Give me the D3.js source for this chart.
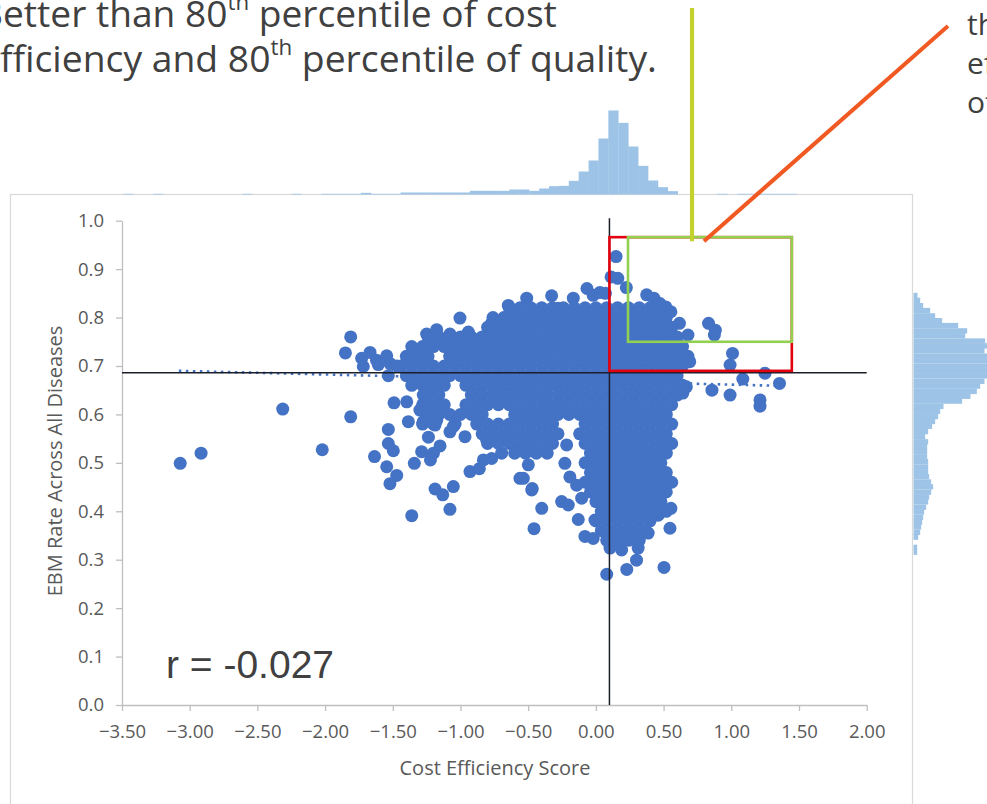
<!DOCTYPE html>
<html>
<head>
<meta charset="utf-8">
<script src="https://cdn.jsdelivr.net/npm/d3@7"></script>
<style>
  html, body { margin: 0; padding: 0; background: #fff; overflow: hidden; }
  svg { display: block; }
</style>
</head>
<body>
<div id="chart"></div>
<script>
/* EBM rate vs cost efficiency scatter, with the two marginal histograms */

const xTicks = [-3.5, -3, -2.5, -2, -1.5, -1, -0.5, 0, 0.5, 1, 1.5, 2];
const yTicks = [0, 0.1, 0.2, 0.3, 0.4, 0.5, 0.6, 0.7, 0.8, 0.9, 1.0];

// single dots: [cost efficiency, EBM rate]
const outliers = [
  [-3.07,0.499],[-2.916,0.520],[-2.313,0.611],[-2.021,0.527],[-1.811,0.760],[-1.850,0.727],[-1.811,0.595],
  [-1.730,0.716],[-1.718,0.699],[-1.668,0.728],[-1.620,0.712],[-1.607,0.703],[-1.545,0.721],[-1.520,0.705],[-1.471,0.700],[-1.533,0.680],
  [-1.373,0.712],[-1.299,0.733],[-1.250,0.766],[-1.176,0.775],[-1.078,0.766],[-1.004,0.799],[-0.942,0.770],[-0.831,0.757],
  [-0.773,0.787],[-0.647,0.825],[-0.511,0.840],[-0.450,0.812],[-0.327,0.845],[-0.278,0.819],[-0.167,0.840],[-0.066,0.860],
  [-0.020,0.846],[0.030,0.852],[0.070,0.850],
  [0.149,0.926],[0.112,0.884],[0.162,0.881],[0.225,0.862],[0.375,0.847],[0.428,0.840],[0.473,0.829],[0.516,0.822],
  [0.554,0.812],[0.617,0.788],[0.680,0.764],
  [0.832,0.788],[0.882,0.774],[0.875,0.764],[1.009,0.726],[0.991,0.702],[0.693,0.709],[1.249,0.685],[1.085,0.673],
  [1.356,0.664],[0.857,0.650],[0.991,0.640],[1.212,0.630],[1.212,0.617],[0.642,0.644],[0.668,0.657],
  [-1.491,0.624],[-1.397,0.626],[-1.385,0.585],[-1.275,0.640],[-1.300,0.609],[-1.275,0.585],[-1.188,0.578],[-1.176,0.588],
  [-1.053,0.575],[-1.078,0.564],[-0.967,0.554],
  [-1.533,0.569],[-1.533,0.540],[-1.496,0.525],[-1.635,0.513],[-1.545,0.492],[-1.471,0.474],[-1.521,0.457],
  [-1.237,0.553],[-1.151,0.535],[-1.200,0.520],[-1.287,0.523],[-1.341,0.499],[-1.222,0.506],
  [-1.188,0.446],[-1.131,0.434],[-1.053,0.451],[-1.078,0.404],[-1.360,0.391],
  [-0.930,0.482],[-0.861,0.488],[-0.831,0.506],[-0.770,0.509],[-0.696,0.520],[-0.807,0.547],[-0.659,0.557],[-0.561,0.468],
  [-0.585,0.527],[-0.536,0.468],[-0.474,0.444],[-0.400,0.406],[-0.457,0.364],[-0.499,0.496],[-0.470,0.447],
  [-0.253,0.420],[-0.204,0.413],[-0.130,0.383],[-0.081,0.348],[-0.020,0.344],[-0.216,0.537],[-0.229,0.499],[-0.192,0.471],
  [-0.142,0.454],[-0.105,0.427],[-0.007,0.382],
  [0.080,0.270],[0.228,0.280],[0.503,0.284],[0.547,0.365],[0.460,0.392],[0.300,0.299],[0.312,0.324],[0.386,0.355],
  [0.104,0.324],[0.190,0.320],[0.554,0.406]
];

// the solid mass of overlapping dots, row by row: [EBM rate, cost efficiency values]
const coreRows = [
  [0.82, [-0.64,-0.56,-0.48,-0.40,-0.32,-0.24,-0.16,-0.08,0.00,0.08,0.16,0.24,0.32,0.40,0.48]],
  [0.80, [-0.76,-0.68,-0.60,-0.52,-0.44,-0.36,-0.28,-0.20,-0.12,-0.04,0.04,0.12,0.20,0.28,0.36,0.44,0.52]],
  [0.78, [-0.80,-0.72,-0.64,-0.56,-0.48,-0.40,-0.32,-0.24,-0.16,-0.08,0.00,0.08,0.16,0.24,0.32,0.40,0.48,0.56]],
  [0.76, [-1.24,-1.16,-1.08,-1.00,-0.92,-0.84,-0.76,-0.68,-0.60,-0.52,-0.44,-0.36,-0.28,-0.20,-0.12,-0.04,0.04,0.12,0.20,0.28,0.36,0.44,0.52,0.60]],
  [0.74, [-1.36,-1.28,-1.20,-1.12,-1.04,-0.96,-0.88,-0.80,-0.72,-0.64,-0.56,-0.48,-0.40,-0.32,-0.24,-0.16,-0.08,0.00,0.08,0.16,0.24,0.32,0.40,0.48,0.56,0.64]],
  [0.72, [-1.40,-1.32,-1.24,-1.08,-1.00,-0.92,-0.84,-0.76,-0.68,-0.60,-0.52,-0.44,-0.36,-0.28,-0.20,-0.12,-0.04,0.04,0.12,0.20,0.28,0.36,0.44,0.52,0.60,0.68]],
  [0.70, [-1.44,-1.36,-1.28,-1.20,-1.12,-1.04,-0.96,-0.88,-0.80,-0.72,-0.64,-0.56,-0.48,-0.40,-0.32,-0.24,-0.16,-0.08,0.00,0.08,0.16,0.24,0.32,0.40,0.48,0.56,0.64]],
  [0.68, [-1.40,-1.32,-1.24,-1.16,-1.08,-1.00,-0.92,-0.84,-0.76,-0.68,-0.60,-0.52,-0.44,-0.36,-0.28,-0.20,-0.12,-0.04,0.04,0.12,0.20,0.28,0.36,0.44,0.52,0.60]],
  [0.66, [-1.36,-1.28,-1.20,-1.12,-0.96,-0.88,-0.80,-0.72,-0.64,-0.56,-0.48,-0.40,-0.32,-0.24,-0.16,-0.08,0.00,0.08,0.16,0.24,0.32,0.40,0.48,0.56,0.64]],
  [0.64, [-1.24,-1.16,-0.92,-0.84,-0.76,-0.68,-0.60,-0.52,-0.44,-0.36,-0.28,-0.20,-0.12,-0.04,0.04,0.12,0.20,0.28,0.36,0.44,0.52,0.60]],
  [0.62, [-1.28,-1.20,-1.12,-0.96,-0.88,-0.80,-0.72,-0.64,-0.56,-0.48,-0.40,-0.32,-0.24,-0.16,-0.08,0.00,0.08,0.16,0.24,0.32,0.40,0.48,0.56]],
  [0.60, [-1.24,-1.16,-1.08,-1.00,-0.92,-0.84,-0.60,-0.52,-0.44,-0.36,-0.28,-0.20,-0.12,-0.04,0.04,0.12,0.20,0.28,0.36,0.44,0.52]],
  [0.58, [-1.28,-1.20,-1.04,-0.88,-0.80,-0.72,-0.64,-0.56,-0.48,-0.40,-0.32,-0.08,0.00,0.08,0.16,0.24,0.32,0.40,0.48,0.56]],
  [0.56, [-0.84,-0.76,-0.68,-0.60,-0.52,-0.44,-0.36,-0.28,-0.12,-0.04,0.04,0.12,0.20,0.28,0.36,0.44,0.52]],
  [0.54, [-0.80,-0.72,-0.64,-0.56,-0.48,-0.40,-0.32,-0.08,0.00,0.08,0.16,0.24,0.32,0.40,0.48,0.56]],
  [0.52, [-0.60,-0.52,-0.44,-0.36,-0.04,0.04,0.12,0.20,0.28,0.36,0.44,0.52]],
  [0.50, [-0.08,0.00,0.08,0.16,0.24,0.32,0.40,0.48]],
  [0.48, [-0.04,0.04,0.12,0.20,0.28,0.36,0.44,0.52]],
  [0.46, [-0.08,0.00,0.08,0.16,0.24,0.32,0.40,0.48,0.56]],
  [0.44, [-0.04,0.04,0.12,0.20,0.28,0.36,0.44,0.52]],
  [0.42, [0.00,0.08,0.16,0.24,0.32,0.40,0.48]],
  [0.40, [0.04,0.12,0.20,0.28,0.36,0.44,0.52]],
  [0.38, [0.00,0.08,0.16,0.24,0.32,0.40]],
  [0.36, [0.04,0.12,0.20,0.28,0.36]],
  [0.34, [0.08,0.16,0.24,0.32]]
];

// histogram along the top (cost efficiency)
const topBinWidth = 0.0731;
const topBinX0 = [-3.490,-3.270,-2.612,-2.247,-2.028,-1.954,-1.881,-1.808,-1.735,-1.662,-1.589,-1.516,
  -1.443,-1.370,-1.297,-1.223,-1.150,-1.077,-1.004,-0.931,-0.858,-0.785,-0.712,-0.639,-0.566,-0.492,
  -0.419,-0.346,-0.273,-0.200,-0.127,-0.054,0.019,0.092,0.166,0.239,0.312,0.385,0.458,0.531,0.897,
  1.043,1.116,1.189,1.262,1.335,1.408];
const topBinCount = [2,2,2,2,2,2,2,2,5,2,2,2,6,6,6,6,6,6,6,11,11,11,11,15,15,11,18,25,26,41,69,102,
  168,252,215,144,86,42,22,10,2,2,2,2,2,2,2];

// histogram on the right (EBM rate), bins given by their upper edge
const rightBinHeight = 0.0104;
const rightBinTop = [0.851,0.841,0.830,0.820,0.809,0.799,0.789,0.778,0.768,0.757,0.747,0.737,0.726,0.716,
  0.705,0.695,0.685,0.674,0.664,0.653,0.643,0.633,0.622,0.612,0.601,0.591,0.581,0.570,0.560,0.549,0.539,
  0.529,0.518,0.508,0.497,0.487,0.477,0.466,0.456,0.445,0.435,0.425,0.414,0.404,0.393,0.383,0.373,0.362,
  0.352,0.331,0.321];
const rightBinCount = [12,20,29,50,65,86,134,161,155,215,228,213,234,236,236,236,230,213,200,190,171,146,
  90,80,74,65,56,44,35,44,41,41,41,44,44,44,47,53,59,53,47,44,38,32,29,26,23,20,14,11,11];

const trendX = [-3.08, 1.36];
const trendY = [0.690, 0.659];
const crossX = 0.1, crossY = 0.686;
const redBox = [0.1, 1.447, 0.690, 0.966];     // x0, x1, y0, y1
const greenBox = [0.237, 1.447, 0.750, 0.966];
const rText = "r = -0.027";

const width = 987, height = 804;

const svg = d3.select("#chart")
    .append("svg")
    .attr("width", width)
    .attr("height", height)
    .attr("viewBox", [0, 0, width, height]);

let x = d3.scaleLinear().domain([-3.5, 2]).range([122, 866.7]);
let y = d3.scaleLinear().domain([0, 1]).range([705, 220.7]);
let h = d3.scaleLinear().domain([0, 252]).range([0, 84]);

// chart frame
svg.append("rect")
    .attr("x", 10.5).attr("y", 194.5)
    .attr("width", 902).attr("height", 660)
    .attr("fill", "#fff")
    .attr("stroke", "#d9d9d9")
    .attr("stroke-width", 1.2);

// top histogram
const topBase = 194.5;
svg.append("g")
    .selectAll("rect")
    .data(topBinX0.map((d, i) => ({x0: d, n: topBinCount[i]})))
    .join("rect")
    .attr("fill", "#9dc3e6")
    .attr("x", d => x(d.x0))
    .attr("width", d => x(d.x0 + topBinWidth) - x(d.x0) + 0.3)
    .attr("y", d => topBase - h(d.n))
    .attr("height", d => h(d.n));

// right histogram
const rightBase = 913.5;
svg.append("g")
    .selectAll("rect")
    .data(rightBinTop.map((d, i) => ({top: d, n: rightBinCount[i]})))
    .join("rect")
    .attr("fill", "#9dc3e6")
    .attr("x", rightBase)
    .attr("width", d => h(d.n))
    .attr("y", d => y(d.top))
    .attr("height", d => y(d.top - rightBinHeight) - y(d.top) + 0.3);

// axes
const fontUI = "'Open Sans', 'Noto Sans', sans-serif";

let yAxis = svg.append("g")
    .attr("transform", "translate(122,0)")
    .call(d3.axisLeft(y).tickValues(yTicks).tickFormat(d3.format(".1f"))
        .tickSize(6).tickSizeOuter(0).tickPadding(12));

let xAxis = svg.append("g")
    .attr("transform", "translate(0,705)")
    .call(d3.axisBottom(x).tickValues(xTicks).tickFormat(d3.format(".2f"))
        .tickSize(6).tickSizeOuter(0).tickPadding(14));

for (let ax of [xAxis, yAxis]) {
    ax.select(".domain").attr("stroke", "#bfbfbf").attr("stroke-width", 1.3);
    ax.selectAll(".tick line").attr("stroke", "#bfbfbf").attr("stroke-width", 1.3);
    ax.selectAll(".tick text")
        .attr("fill", "#595959")
        .style("font-family", fontUI)
        .style("font-size", "18.5px");
}

svg.append("text")
    .text("EBM Rate Across All Diseases")
    .attr("transform", "translate(62,461) rotate(-90)")
    .attr("text-anchor", "middle")
    .style("font-family", fontUI)
    .style("font-size", "20px")
    .attr("fill", "#595959");

svg.append("text")
    .text("Cost Efficiency Score")
    .attr("x", 495).attr("y", 775)
    .attr("text-anchor", "middle")
    .style("font-family", fontUI)
    .style("font-size", "20px")
    .attr("fill", "#595959");

// trend line (dotted), under the dots
svg.append("line")
    .attr("x1", x(trendX[0])).attr("y1", y(trendY[0]))
    .attr("x2", x(trendX[1])).attr("y2", y(trendY[1]))
    .attr("stroke", "#4472c4")
    .attr("stroke-width", 2.6)
    .attr("stroke-dasharray", "2.5 4.5");

// dots
const points = outliers.concat(coreRows.flatMap(r => r[1].map(v => [v, r[0]])));

svg.append("g")
    .selectAll("circle")
    .data(points)
    .join("circle")
    .attr("cx", d => x(d[0]))
    .attr("cy", d => y(d[1]))
    .attr("r", 6.5)
    .attr("fill", "#4472c4");

// cross lines at the medians
svg.append("line")
    .attr("x1", x(crossX)).attr("x2", x(crossX))
    .attr("y1", y(1.005)).attr("y2", y(0))
    .attr("stroke", "#1b1f2a").attr("stroke-width", 1.5);

svg.append("line")
    .attr("x1", x(-3.5)).attr("x2", x(2.0))
    .attr("y1", y(crossY)).attr("y2", y(crossY))
    .attr("stroke", "#1b1f2a").attr("stroke-width", 1.5);

// highlight boxes
const box = (b, colour) => svg.append("rect")
    .attr("x", x(b[0])).attr("y", y(b[3]))
    .attr("width", x(b[1]) - x(b[0]))
    .attr("height", y(b[2]) - y(b[3]))
    .attr("fill", "none")
    .attr("stroke", colour)
    .attr("stroke-width", 2.6);

box(redBox, "#e3000f");
box(greenBox, "#92d050");

// callout lines to the text boxes
svg.append("line")
    .attr("x1", x(0.71)).attr("y1", 8)
    .attr("x2", x(0.71)).attr("y2", y(greenBox[3]) + 4)
    .attr("stroke", "#c3d12c").attr("stroke-width", 4.2);

svg.append("line")
    .attr("x1", x(0.798)).attr("y1", y(greenBox[3]) + 4)
    .attr("x2", 948).attr("y2", 26)
    .attr("stroke", "#f05a22").attr("stroke-width", 4);

// r label
svg.append("text")
    .text(rText)
    .attr("x", 166).attr("y", 678)
    .style("font-family", "'Liberation Sans', Arial, sans-serif")
    .style("font-size", "39px")
    .attr("fill", "#404040");

// annotation text, cut at the picture edges
function annot(parts, xx, yy, size) {
    let t = svg.append("text")
        .attr("x", xx).attr("y", yy)
        .attr("font-size", size)
        .style("font-family", fontUI)
        .attr("fill", "#404040");
    t.append("tspan").text(parts[0]);
    t.append("tspan").text("th").attr("font-size", "60%").attr("dy", "-0.75em");
    t.append("tspan").text(parts[1]).attr("dy", "0.45em");
    return t;
}

function fit(t, startX, endX) {
    try {
        const node = t.node();
        const n = node.getNumberOfChars();
        const w = node.getSubStringLength(1, n - 1);
        const fs = +t.attr("font-size");
        t.attr("font-size", fs * (endX - startX) / w);
        const p = node.getStartPositionOfChar(1).x;
        t.attr("x", +t.attr("x") + startX - p);
    } catch (e) {}
}

fit(annot(["Better than 80", " percentile of cost"], 0, 27, 32), 3, 557);
fit(annot(["efficiency and 80", " percentile of quality."], 0, 72, 32), 0, 657);

const rightLines = ["than 90th percentile of cost", "efficiency and 90th percentile", "of quality."];
svg.append("g")
    .selectAll("text")
    .data(rightLines)
    .join("text")
    .text(d => d)
    .attr("x", 967)
    .attr("y", (d, i) => [35, 74, 113][i])
    .style("font-family", fontUI)
    .style("font-size", "30px")
    .attr("fill", "#404040");
</script>
</body>
</html>
